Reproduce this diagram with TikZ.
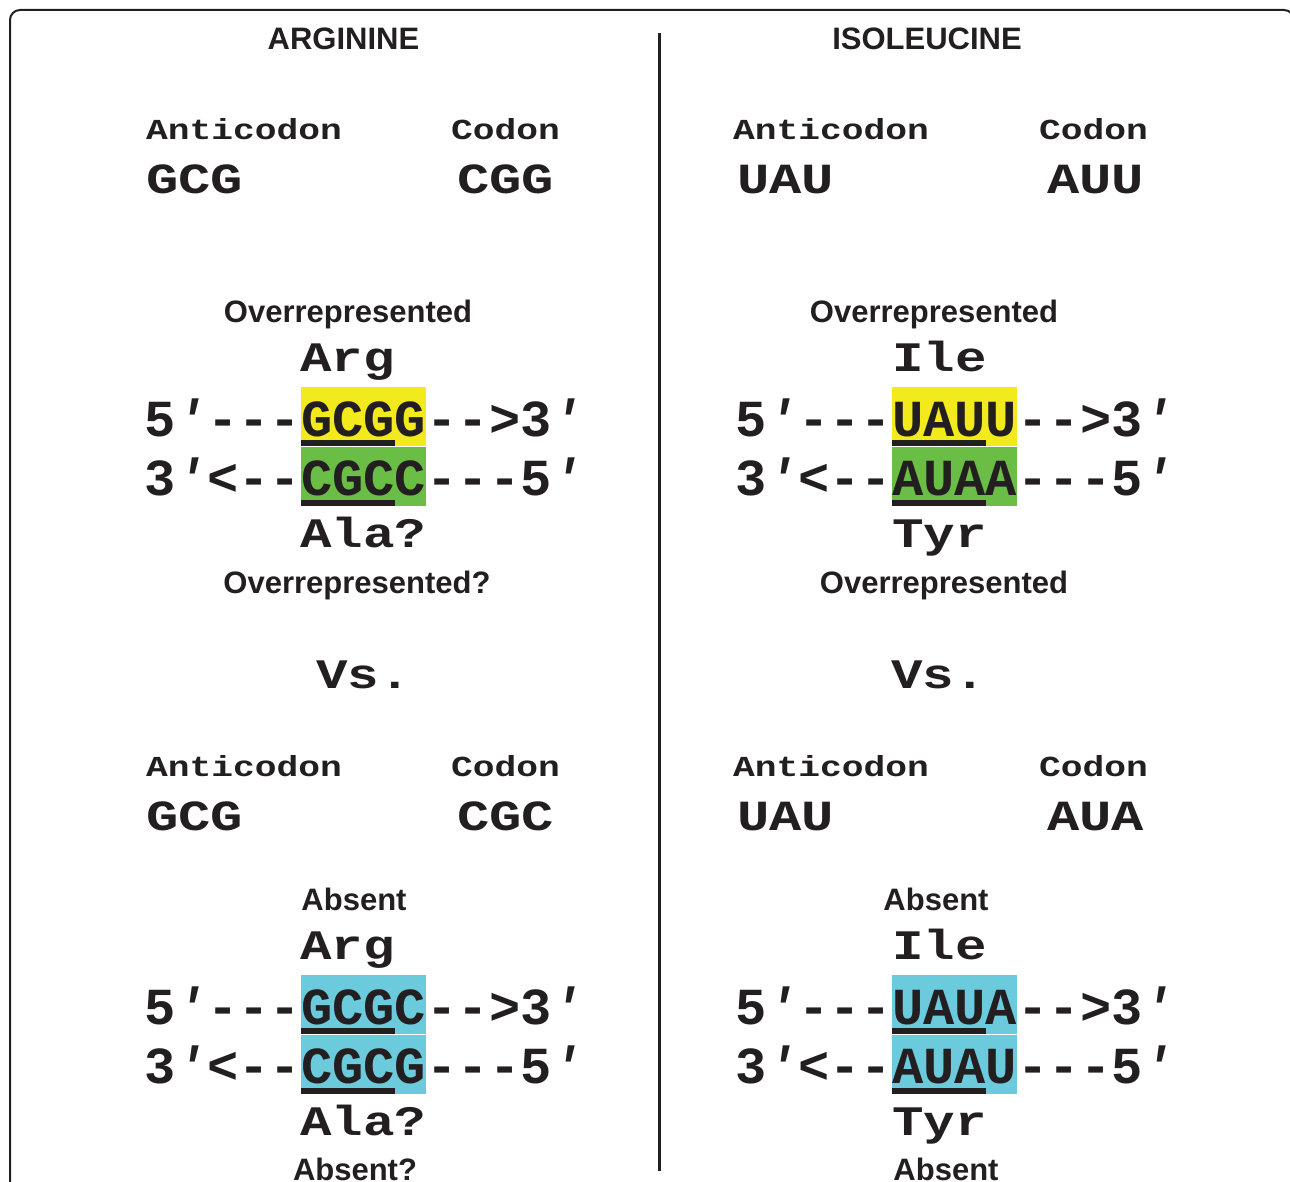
\documentclass[tikz,border=0pt]{standalone}
\usepackage{fontspec}
\setmainfont{Liberation Sans}
\setmonofont{Liberation Mono}
\newfontfamily\widemono{Liberation Mono}[FakeStretch=1.25]
\usepackage{tikz}
\usetikzlibrary{positioning}

\definecolor{ink}{HTML}{231F20}
\definecolor{hlyellow}{HTML}{F2EA1C}
\definecolor{hlgreen}{HTML}{6ABD45}
\definecolor{hlcyan}{HTML}{6BCBDD}

\newcommand\pr{\textit{′}}

\tikzset{
  heading/.style={font=\fontsize{31}{31}\selectfont\bfseries, text=ink, inner sep=0pt, anchor=base},
  label/.style={font=\widemono\fontsize{29}{29}\selectfont\bfseries, text=ink, inner sep=0pt, anchor=base west},
  codon/.style={font=\widemono\fontsize{43}{43}\selectfont\bfseries, text=ink, inner sep=0pt, anchor=base west},
  amino/.style={font=\widemono\fontsize{42}{42}\selectfont\bfseries, text=ink, inner sep=0pt, anchor=base west},
  strand/.style={font=\ttfamily\fontsize{52}{52}\selectfont\bfseries, text=ink, inner sep=0pt, text height=49pt, text depth=10pt},
  pairbox/.style={strand, minimum width=125pt},
}

\begin{document}
\begin{tikzpicture}[x=1pt, y=-1pt]
    \useasboundingbox (0,0) rectangle (1290,1182);

    % Frame and divider
    \begin{scope}
        \clip (0,0) rectangle (1290,1182);
        \draw[ink, line width=2pt, rounded corners=10pt] (10,10) rectangle (1294,1240);
    \end{scope}
    \draw[ink, line width=3pt] (659,33) -- (659,1171);

    % Headings
    \node[heading] (arginine) at (343.5,50) {ARGININE};
    \node[heading] (isoleucine) at (927,50) {ISOLEUCINE};

    % Anticodon and codon
    \foreach \n/\lx/\cx/\ax/\bx/\y/\anti/\cod in {a/146/451/146/457/0/GCG/CGG, b/733/1039/737/1047/0/UAU/AUU,
                                                   c/146/451/146/457/636/GCG/CGC, d/733/1039/737/1047/636/UAU/AUA} {
        \node[label] (anti\n) at (\lx,140+\y) {Anticodon};
        \node[label] (cod\n) at (\cx,140+\y) {Codon};
        \node[codon] (antiseq\n) at (\ax,194+\y) {\anti};
        \node[codon] (codseq\n) at (\bx,194+\y) {\cod};
    }

    % Double strands
    \foreach \n/\bx/\y/\seqa/\seqb/\fillA/\fillB in {a/301/0/GCGG/CGCC/hlyellow/hlgreen, b/892/0/UAUU/AUAA/hlyellow/hlgreen,
                                                     c/301/588/GCGC/CGCG/hlcyan/hlcyan, d/892/588/UAUA/AUAU/hlcyan/hlcyan} {
        \node[pairbox, fill=\fillA, anchor=north west] (top\n) at (\bx,387+\y) {\seqa};
        \node[pairbox, fill=\fillB, anchor=north] (bot\n) at (top\n.south) {\seqb};
        \node[strand, anchor=east] (topl\n) at (top\n.west) {5\pr---};
        \node[strand, anchor=west] (topr\n) at (top\n.east) {-->3\pr};
        \node[strand, anchor=east] (botl\n) at (bot\n.west) {3\pr<--};
        \node[strand, anchor=west] (botr\n) at (bot\n.east) {---5\pr};
        \fill[ink] (top\n.south west) rectangle ++(94,-6);
        \fill[ink] (bot\n.south west) rectangle ++(94,-6);
    }

    % Amino acids
    \foreach \n/\x/\y/\aaup/\aadown in {a/300/0/Arg/Ala?, b/892/0/Ile/Tyr, c/300/588/Arg/Ala?, d/892/588/Ile/Tyr} {
        \node[amino] (aaup\n) at (\x,371+\y) {\aaup};
        \node[amino] (aadown\n) at (\x,547+\y) {\aadown};
    }

    % Representation
    \node[heading] (statea) at (348,322) {Overrepresented};
    \node[heading] (stateb) at (934,322) {Overrepresented};
    \node[heading] (statec) at (354,910) {Absent};
    \node[heading] (stated) at (936,910) {Absent};
    \node[heading] (notea) at (357,593) {Overrepresented?};
    \node[heading] (noteb) at (944,593) {Overrepresented};
    \node[heading] (notec) at (355,1180) {Absent?};
    \node[heading] (noted) at (946,1180) {Absent};

    % Versus
    \node[amino] (vsa) at (316,688) {Vs.};
    \node[amino] (vsb) at (891,688) {Vs.};
\end{tikzpicture}
\end{document}
